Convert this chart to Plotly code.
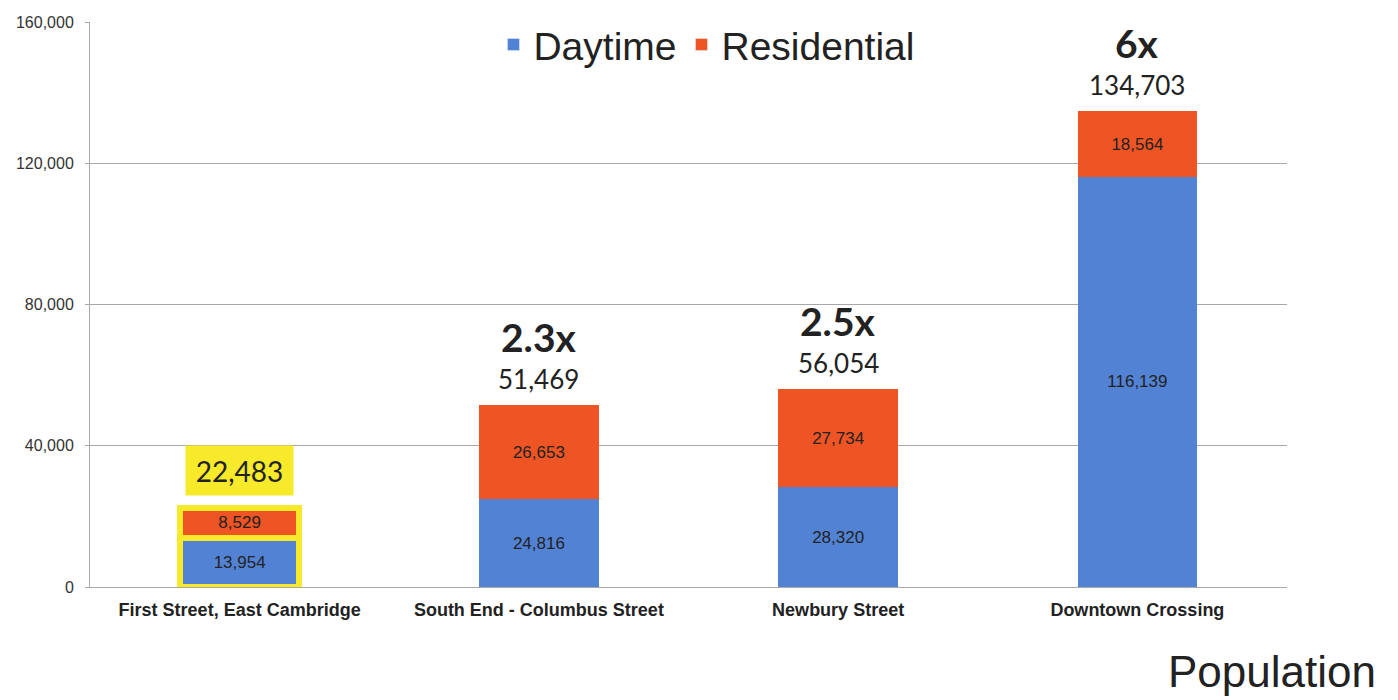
import plotly.graph_objects as go

categories = ["First Street, East Cambridge", "South End - Columbus Street", "Newbury Street", "Downtown Crossing"]
daytime = [13954, 24816, 28320, 116139]
residential = [8529, 26653, 27734, 18564]
totals = [22483, 51469, 56054, 134703]
multipliers = ["", "2.3x", "2.5x", "6x"]
y_ticks = [0, 40000, 80000, 120000, 160000]

BLUE = "#5282D4"
RED = "#EE5424"
YELLOW = "#F6EA2B"

line_colors = [YELLOW, "rgba(0,0,0,0)", "rgba(0,0,0,0)", "rgba(0,0,0,0)"]
line_widths = [6, 0, 0, 0]
seg_font = dict(family="Arial, Liberation Sans", size=17, color="#222")

fig = go.Figure()
fig.add_trace(go.Bar(
    x=categories, y=daytime, name="Daytime", showlegend=False,
    marker=dict(color=BLUE, line=dict(color=line_colors, width=line_widths)),
    text=[f"{v:,}" for v in daytime], textposition="inside", insidetextanchor="middle",
    textfont=seg_font, width=0.4,
))
fig.add_trace(go.Bar(
    x=categories, y=residential, name="Residential", showlegend=False,
    marker=dict(color=RED, line=dict(color=line_colors, width=line_widths)),
    text=[f"{v:,}" for v in residential], textposition="inside", insidetextanchor="middle",
    textfont=seg_font, width=0.4,
))
# legend entries
fig.add_trace(go.Bar(x=[None], y=[None], name="Daytime", marker=dict(color=BLUE)))
fig.add_trace(go.Bar(x=[None], y=[None], name="Residential", marker=dict(color=RED)))

for i, (c, t, m) in enumerate(zip(categories, totals, multipliers)):
    if i == 0:
        fig.add_annotation(x=c, y=t, text=f"{t:,}", showarrow=False, yshift=37,
                           font=dict(family="Lato, Open Sans", size=28, color="#222"),
                           bgcolor=YELLOW, width=97, height=39, borderpad=5)
    else:
        fig.add_annotation(x=c, y=t, text=f"{t:,}", showarrow=False, yshift=26,
                           font=dict(family="Lato, Open Sans", size=26, color="#222"))
        fig.add_annotation(x=c, y=t, text=f"<b>{m}</b>", showarrow=False, yshift=68,
                           font=dict(family="Lato, Open Sans", size=39, color="#222"))

fig.add_annotation(xref="paper", yref="paper", x=1.0 + 91/1198, y=-0.150, xanchor="right", yanchor="middle",
                   text="Population", showarrow=False,
                   font=dict(family="Arial, Liberation Sans", size=44, color="#222"))

fig.update_layout(
    barmode="stack",
    width=1398, height=700,
    margin=dict(l=90, r=111, t=22, b=113, autoexpand=False),
    paper_bgcolor="white", plot_bgcolor="white",
    legend=dict(orientation="h", x=0.515, xanchor="center", y=0.96, yanchor="middle",
                font=dict(family="Arial, Liberation Sans", size=39, color="#222"),
                bgcolor="rgba(0,0,0,0)", traceorder="normal"),
    bargap=0.6,
)
fig.update_yaxes(range=[0, 160000], tickvals=y_ticks, tickformat=",",
                 showgrid=True, gridcolor="#A8A8A8", gridwidth=1,
                 showline=True, linecolor="#A8A8A8", ticks="outside", ticklen=4, tickcolor="#A8A8A8",
                 ticklabelstandoff=8, automargin=False,
                 tickfont=dict(family="Arial, Liberation Sans", size=16, color="#333"), zeroline=False)
fig.update_xaxes(showline=True, linecolor="#A8A8A8", ticks="outside", ticklen=6, tickcolor="rgba(0,0,0,0)",
                 automargin=False,
                 tickfont=dict(family="Arial, Liberation Sans", size=18, color="#222"),
                 tickprefix="<b>", ticksuffix="</b>")

fig.write_html("out.html")
